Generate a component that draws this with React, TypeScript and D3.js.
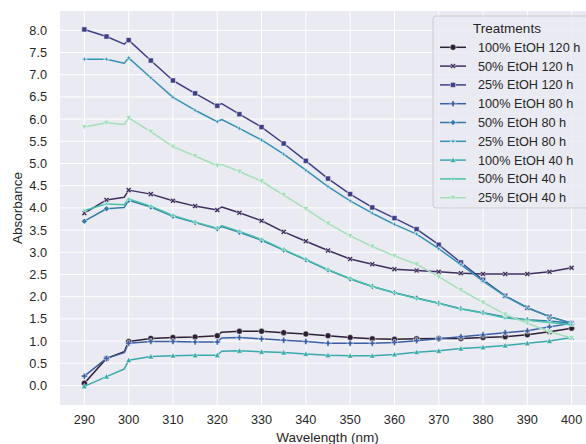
import React from "react";
import * as d3 from "d3";

// Wavelengths (nm). 299 and 321 are extra readings shown without markers.
const wavelengths = [290, 295, 299, 300, 305, 310, 315, 320, 321, 325, 330, 335, 340, 345, 350, 355, 360, 365, 370, 375, 380, 385, 390, 395, 400];

const etoh100_120 = [0.05, 0.61, 0.76, 0.99, 1.06, 1.08, 1.09, 1.12, 1.20, 1.22, 1.22, 1.19, 1.16, 1.12, 1.08, 1.05, 1.04, 1.05, 1.06, 1.06, 1.08, 1.10, 1.14, 1.21, 1.29];
const etoh50_120 = [3.88, 4.18, 4.24, 4.40, 4.31, 4.16, 4.04, 3.95, 4.02, 3.89, 3.71, 3.46, 3.25, 3.04, 2.85, 2.73, 2.62, 2.59, 2.56, 2.53, 2.51, 2.51, 2.51, 2.56, 2.65];
const etoh25_120 = [8.02, 7.86, 7.69, 7.78, 7.32, 6.87, 6.58, 6.30, 6.35, 6.11, 5.82, 5.45, 5.06, 4.66, 4.31, 4.01, 3.77, 3.52, 3.17, 2.77, 2.38, 2.02, 1.75, 1.55, 1.40];
const etoh100_80 = [0.21, 0.61, 0.74, 0.95, 0.99, 0.99, 0.98, 0.98, 1.07, 1.08, 1.05, 1.02, 0.99, 0.95, 0.95, 0.95, 0.97, 1.01, 1.05, 1.10, 1.14, 1.19, 1.23, 1.32, 1.40];
const etoh50_80 = [3.70, 3.98, 4.01, 4.17, 4.02, 3.81, 3.67, 3.53, 3.58, 3.45, 3.27, 3.05, 2.83, 2.60, 2.40, 2.23, 2.09, 1.97, 1.85, 1.73, 1.64, 1.54, 1.48, 1.45, 1.40];
const etoh25_80 = [7.35, 7.35, 7.26, 7.38, 6.93, 6.49, 6.20, 5.94, 5.99, 5.79, 5.53, 5.21, 4.85, 4.48, 4.16, 3.88, 3.63, 3.41, 3.08, 2.72, 2.35, 2.01, 1.75, 1.55, 1.40];
const etoh100_40 = [-0.02, 0.20, 0.37, 0.57, 0.65, 0.67, 0.68, 0.68, 0.77, 0.78, 0.76, 0.74, 0.71, 0.68, 0.67, 0.67, 0.70, 0.75, 0.78, 0.83, 0.86, 0.90, 0.95, 1.00, 1.08];
const etoh50_40 = [3.94, 4.09, 4.07, 4.20, 4.04, 3.83, 3.68, 3.54, 3.60, 3.47, 3.29, 3.06, 2.84, 2.61, 2.41, 2.23, 2.09, 1.96, 1.85, 1.72, 1.63, 1.52, 1.47, 1.42, 1.37];
const etoh25_40 = [5.82, 5.92, 5.88, 6.03, 5.72, 5.38, 5.17, 4.95, 4.98, 4.82, 4.60, 4.29, 3.98, 3.65, 3.37, 3.13, 2.92, 2.73, 2.45, 2.15, 1.87, 1.60, 1.40, 1.21, 1.07];

const treatmentNames = [
  "100% EtOH 120 h",
  "50% EtOH 120 h",
  "25% EtOH 120 h",
  "100% EtOH 80 h",
  "50% EtOH 80 h",
  "25% EtOH 80 h",
  "100% EtOH 40 h",
  "50% EtOH 40 h",
  "25% EtOH 40 h",
];
const treatmentValues = [etoh100_120, etoh50_120, etoh25_120, etoh100_80, etoh50_80, etoh25_80, etoh100_40, etoh50_40, etoh25_40];

const xTicks = [290, 300, 310, 320, 330, 340, 350, 360, 370, 380, 390, 400];
const yTicks = [0, 0.5, 1, 1.5, 2, 2.5, 3, 3.5, 4, 4.5, 5, 5.5, 6, 6.5, 7, 7.5, 8];

const colors = ["#2a1f33", "#3e2f5f", "#3f3f88", "#3a5fa3", "#3579a8", "#3592b5", "#39a9aa", "#47c1ab", "#a3dfbb"];
const markerKinds = ["circle", "x", "square", "plus", "diamond", "star", "triangle", "starX", "triangleDown"];

const W = 586;
const H = 444;
const plot = { left: 60, top: 11, right: 596, bottom: 405 };
const FONT = "Arial, 'Liberation Sans', sans-serif";

function markerPath(kind: string, s: number): string {
  const h = s / 2;
  switch (kind) {
    case "circle":
      return d3.symbol(d3.symbolCircle, Math.PI * h * h)()!;
    case "square":
      return `M${-h * 0.85},${-h * 0.85}H${h * 0.85}V${h * 0.85}H${-h * 0.85}Z`;
    case "diamond":
      return `M0,${-h}L${h},0L0,${h}L${-h},0Z`;
    case "triangle":
      return `M0,${-h}L${h},${h * 0.8}L${-h},${h * 0.8}Z`;
    case "triangleDown":
      return `M0,${h}L${h},${-h * 0.8}L${-h},${-h * 0.8}Z`;
    case "plus": {
      const t = h * 0.36;
      return `M${-t},${-h}H${t}V${-t}H${h}V${t}H${t}V${h}H${-t}V${t}H${-h}V${-t}H${-t}Z`;
    }
    case "x": {
      const t = h * 0.3;
      const pts: [number, number][] = [];
      for (let i = 0; i < 4; i++) {
        const a = Math.PI / 4 + (i * Math.PI) / 2;
        const ca = Math.cos(a), sa = Math.sin(a);
        const px = -sa, py = ca;
        pts.push([ca * h - px * t, sa * h - py * t]);
        pts.push([ca * h + px * t, sa * h + py * t]);
        const b = a + Math.PI / 4;
        pts.push([Math.cos(b) * t * 1.41, Math.sin(b) * t * 1.41]);
      }
      return "M" + pts.map((p) => p.join(",")).join("L") + "Z";
    }
    case "star":
    case "starX": {
      const off = kind === "star" ? -Math.PI / 2 : -Math.PI / 4;
      const pts: string[] = [];
      for (let i = 0; i < 8; i++) {
        const r = i % 2 === 0 ? h : h * 0.35;
        const a = off + (i * Math.PI) / 4;
        pts.push(`${Math.cos(a) * r},${Math.sin(a) * r}`);
      }
      return "M" + pts.join("L") + "Z";
    }
  }
  return "";
}

export default function App() {
  const x = d3.scaleLinear().domain([284.5, 405.5]).range([plot.left, plot.right]);
  const y = d3.scaleLinear().domain([-0.44, 8.435]).range([plot.bottom, plot.top]);

  const line = d3
    .line<number>()
    .x((_, i) => x(wavelengths[i]))
    .y((v) => y(v));

  const legendX = 433;
  const legendY = 16;
  const rowH = 18.8;

  return (
    <div style={{ position: "fixed", left: 0, top: 0 }}>
      <svg width={W} height={H} style={{ display: "block", background: "#fff" }} fontFamily={FONT}>
        <defs>
          <clipPath id="plot-clip">
            <rect x={plot.left} y={plot.top} width={plot.right - plot.left} height={plot.bottom - plot.top} />
          </clipPath>
        </defs>
        <rect x={plot.left} y={plot.top} width={plot.right - plot.left} height={plot.bottom - plot.top} fill="#eaeaf2" />
        {xTicks.map((t) => (
          <line key={"gx" + t} x1={x(t)} x2={x(t)} y1={plot.top} y2={plot.bottom} stroke="#fff" strokeWidth={1} />
        ))}
        {yTicks.map((t) => (
          <line key={"gy" + t} x1={plot.left} x2={plot.right} y1={y(t)} y2={y(t)} stroke="#fff" strokeWidth={1} />
        ))}

        <g clipPath="url(#plot-clip)">
          {treatmentValues.map((vals, si) => (
            <g key={treatmentNames[si]}>
              <path d={line(vals)!} fill="none" stroke={colors[si]} strokeWidth={1.5} strokeLinejoin="round" />
              {vals.map((v, i) =>
                wavelengths[i] % 5 === 0 ? (
                  <path
                    key={i}
                    transform={`translate(${x(wavelengths[i])},${y(v)})`}
                    d={markerPath(markerKinds[si], 6)}
                    fill={colors[si]}
                    stroke="#fff"
                    strokeWidth={0.5}
                  />
                ) : null
              )}
            </g>
          ))}
        </g>

        {xTicks.map((t) => (
          <text key={"tx" + t} x={x(t)} y={424} textAnchor="middle" fontSize={12.7} fill="#262626">
            {t}
          </text>
        ))}
        {yTicks.map((t) => (
          <text key={"ty" + t} x={47} y={y(t) + 4.5} textAnchor="end" fontSize={12.7} fill="#262626">
            {t.toFixed(1)}
          </text>
        ))}
        <text x={(plot.left + 595) / 2} y={442} textAnchor="middle" fontSize={13.5} fill="#262626">
          Wavelength (nm)
        </text>
        <text
          transform={`translate(22,${(plot.top + plot.bottom) / 2}) rotate(-90)`}
          textAnchor="middle"
          fontSize={13.5}
          fill="#262626"
        >
          Absorbance
        </text>

        <g>
          <rect x={legendX} y={legendY} width={158} height={192} rx={3} fill="#eaeaf2" fillOpacity={0.85} stroke="#cccccc" strokeWidth={1} />
          <text x={507} y={33} textAnchor="middle" fontSize={13.5} fill="#262626">
            Treatments
          </text>
          {treatmentNames.map((name, i) => {
            const cy = 47.3 + i * rowH;
            return (
              <g key={name}>
                <line x1={440} x2={466} y1={cy} y2={cy} stroke={colors[i]} strokeWidth={1.5} />
                <path transform={`translate(453,${cy})`} d={markerPath(markerKinds[i], 6)} fill={colors[i]} stroke="#fff" strokeWidth={0.5} />
                <text x={478} y={cy + 4.5} fontSize={12.7} fill="#262626">
                  {name}
                </text>
              </g>
            );
          })}
        </g>
      </svg>
    </div>
  );
}
